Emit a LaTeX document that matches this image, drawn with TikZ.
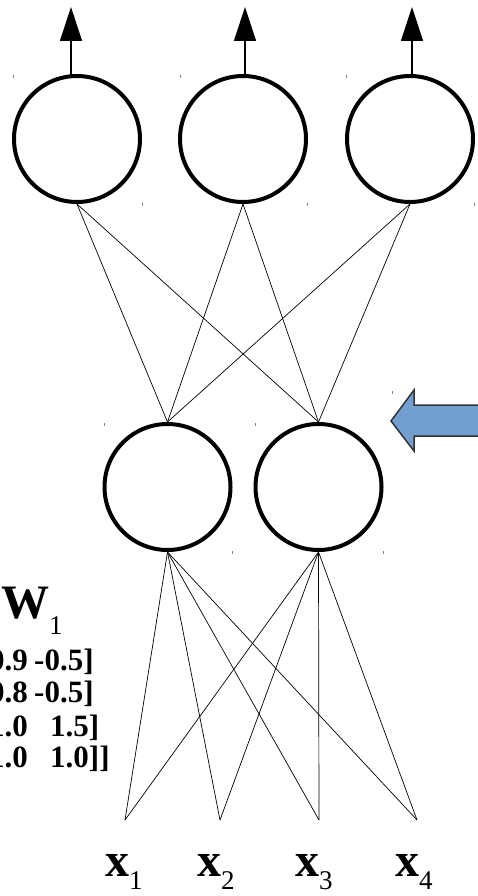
\documentclass[tikz,border=0pt]{standalone}
\usepackage{fontspec}
\setmainfont{Liberation Serif}
\usetikzlibrary{arrows.meta}
\definecolor{arrowblue}{HTML}{729FCF}
\definecolor{arrowedge}{HTML}{333333}
\begin{document}
\begin{tikzpicture}[x=1pt,y=-1pt,
  neuron/.style={circle,draw=black,line width=4pt,fill=white,minimum size=126pt,inner sep=0pt},
  conn/.style={line width=0.7pt,draw=black},
  outarrow/.style={line width=1.2pt,draw=black,-{Triangle[length=34pt,width=22pt]}},
  selmark/.style={draw=gray,line width=0.8pt},
  biglabel/.style={inner sep=0pt,anchor=base west,font=\fontsize{48}{48}\selectfont\bfseries},
  matrow/.style={inner sep=0pt,font=\fontsize{31}{31}\selectfont\bfseries},
  bigarrow/.style={fill=arrowblue,draw=arrowedge,line width=1.5pt,line join=miter}]
\clip (0,0) rectangle (478,896);
\fill[white] (0,0) rectangle (478,896);

% output layer
\node[neuron] (o1) at (77,139) {};
\node[neuron] (o2) at (243,139) {};
\node[neuron] (o3) at (410,139) {};
% hidden layer
\node[neuron] (h1) at (167.5,487) {};
\node[neuron] (h2) at (318.5,487) {};
% inputs
\coordinate (i1) at (125,820);
\coordinate (i2) at (220,820);
\coordinate (i3) at (319,820);
\coordinate (i4) at (417,820);

% output arrows
\coordinate (a1) at (71,78);  \coordinate (t1) at (71,7);
\coordinate (a2) at (245,78); \coordinate (t2) at (245,7);
\coordinate (a3) at (412,76); \coordinate (t3) at (412,7);
\draw[outarrow] (a1) -- (t1);
\draw[outarrow] (a2) -- (t2);
\draw[outarrow] (a3) -- (t3);

% hidden -> output
\foreach \o in {o1,o2,o3} {
  \foreach \h in {h1,h2} {
    \draw[conn] (\o.south) -- (\h.north);
  }
}
% input -> hidden
\foreach \h in {h1,h2} {
  \foreach \i in {i1,i2,i3,i4} {
    \draw[conn] (\h.south) -- (\i);
  }
}

% input labels
\node[biglabel] (lx1) at (105,876) {x\raisebox{-13pt}{\fontsize{27}{27}\selectfont\mdseries 1}};
\node[biglabel] (lx2) at (197,876) {x\raisebox{-13pt}{\fontsize{27}{27}\selectfont\mdseries 2}};
\node[biglabel] (lx3) at (295,876) {x\raisebox{-13pt}{\fontsize{27}{27}\selectfont\mdseries 3}};
\node[biglabel] (lx4) at (395,876) {x\raisebox{-13pt}{\fontsize{27}{27}\selectfont\mdseries 4}};

% weight matrix
\node[biglabel] (wl) at (1,618) {W\raisebox{-16pt}{\fontsize{27}{27}\selectfont\mdseries 1}};
\node[matrow,anchor=base east] (r1a) at (28,670) {[[0.9};
\node[matrow,anchor=base west] (r1b) at (34,670) {-0.5]};
\node[matrow,anchor=base east] (r2a) at (28,702) {[0.8};
\node[matrow,anchor=base west] (r2b) at (34,702) {-0.5]};
\node[matrow,anchor=base east] (r3a) at (28,736) {[1.0};
\node[matrow,anchor=base west] (r3b) at (50,736) {1.5]};
\node[matrow,anchor=base east] (r4a) at (28,767) {[1.0};
\node[matrow,anchor=base west] (r4b) at (50,767) {1.0]]};

% big blue arrow
\draw[bigarrow] (391,421) -- (414,390) -- (414,405) -- (484,405) -- (484,436) -- (414,436) -- (414,451) -- cycle;

% small selection marks
\foreach \a/\b in {13/75,142/203,180/75,307/203,346/75,474/203,104/423,232/551,255/423,383/551,392/391}
  \draw[selmark] (\a,\b) -- ++(0,3);
\end{tikzpicture}
\end{document}
